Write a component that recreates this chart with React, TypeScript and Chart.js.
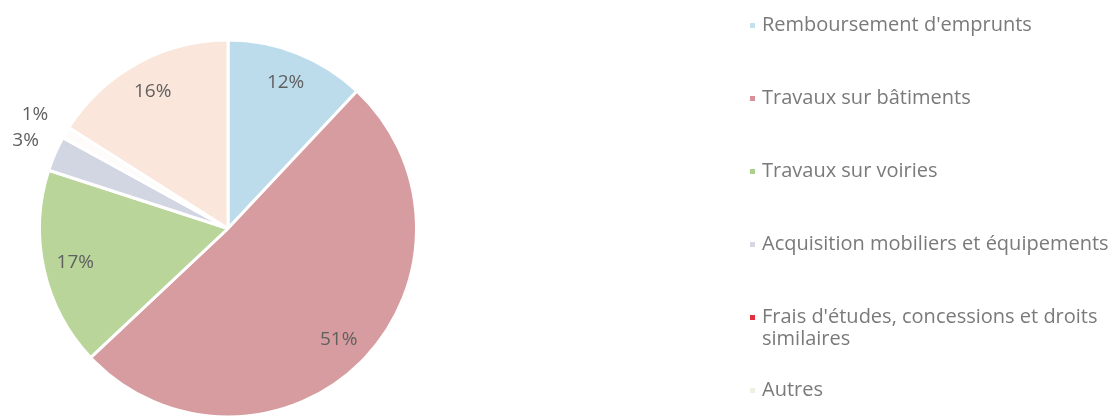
import React, { useEffect, useRef } from "react";
import { Chart, registerables } from "chart.js";

Chart.register(...registerables);

const categories: string[] = [
  "Remboursement d'emprunts",
  "Travaux sur bâtiments",
  "Travaux sur voiries",
  "Acquisition mobiliers et équipements",
  "Frais d'études, concessions et droits similaires",
  "Autres",
];
const legendLines: string[][] = [
  ["Remboursement d'emprunts"],
  ["Travaux sur bâtiments"],
  ["Travaux sur voiries"],
  ["Acquisition mobiliers et équipements"],
  ["Frais d'études, concessions et droits", "similaires"],
  ["Autres"],
];
const values: number[] = [12, 51, 17, 3, 1, 16];
const percentLabels: string[] = ["12%", "51%", "17%", "3%", "1%", "16%"];
const sliceColors: string[] = ["#bcdcec", "#d69c9f", "#bad59a", "#d2d6e3", "#fefcfb", "#fae6da"];
const legendColors: string[] = ["#c2e0ef", "#d8909b", "#acd08c", "#d5d8e2", "#e0323c", "#eef0e2"];

const FONT = "'Open Sans', sans-serif";

const labelPlugin = {
  id: "sliceLabels",
  afterDatasetsDraw(chart: any) {
    const ctx = chart.ctx;
    const meta = chart.getDatasetMeta(0);
    ctx.save();
    ctx.font = `19px ${FONT}`;
    ctx.fillStyle = "#606060";
    ctx.textAlign = "center";
    ctx.textBaseline = "middle";
    meta.data.forEach((arc: any, i: number) => {
      const p = arc.getProps(["x", "y", "startAngle", "endAngle", "outerRadius"], true);
      const mid = (p.startAngle + p.endAngle) / 2;
      const v = values[i];
      const f = v < 2 ? 1.19 : v < 5 ? 1.17 : 0.83;
      const r = p.outerRadius * f;
      ctx.fillText(percentLabels[i], p.x + Math.cos(mid) * r, p.y + Math.sin(mid) * r);
    });
    ctx.restore();
  },
};

const legendPlugin = {
  id: "sideLegend",
  afterDraw(chart: any) {
    const ctx = chart.ctx;
    ctx.save();
    ctx.font = `20px ${FONT}`;
    ctx.textAlign = "left";
    ctx.textBaseline = "middle";
    const x0 = 750;
    const y0 = 25;
    const step = 73;
    const lineH = 22;
    legendLines.forEach((lines, i) => {
      const y = y0 + i * step;
      ctx.fillStyle = legendColors[i];
      ctx.fillRect(x0, y - 2, 5, 5);
      ctx.fillStyle = "#7a7a7a";
      lines.forEach((t, j) => ctx.fillText(t, x0 + 12, y + j * lineH));
    });
    ctx.restore();
  },
};

export default function App() {
  const ref = useRef<HTMLCanvasElement | null>(null);
  useEffect(() => {
    if (!ref.current) return;
    const chart = new Chart(ref.current, {
      type: "pie",
      data: {
        labels: categories,
        datasets: [
          {
            data: values,
            backgroundColor: sliceColors,
            borderColor: "#ffffff",
            borderWidth: 3,
          },
        ],
      },
      options: {
        animation: false,
        responsive: false,
        maintainAspectRatio: false,
        layout: { padding: { left: 38, right: 700, top: 38, bottom: 0 } },
        plugins: {
          legend: { display: false },
          tooltip: { enabled: false },
        },
      },
      plugins: [labelPlugin, legendPlugin],
    });
    return () => chart.destroy();
  }, []);
  return (
    <div style={{ position: "absolute", left: 0, top: 0, width: 1118, height: 419, background: "#fff" }}>
      <canvas ref={ref} width={1118} height={419} style={{ width: 1118, height: 419 }} />
    </div>
  );
}
